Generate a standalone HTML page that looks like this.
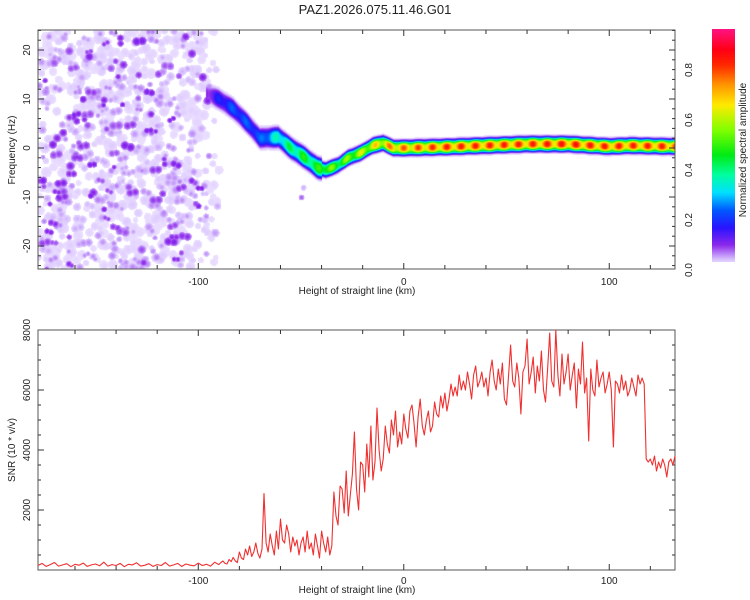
<!DOCTYPE html>
<html><head><meta charset="utf-8"><style>
body{margin:0;background:#fff;width:750px;height:600px;overflow:hidden;font-family:"Liberation Sans",sans-serif}
canvas{position:absolute}
svg{position:absolute;left:0;top:0}
</style></head><body>
<canvas id="spec" width="637" height="239" style="left:38px;top:30px"></canvas>
<canvas id="cbar" width="23" height="233" style="left:712px;top:29px"></canvas>
<svg id="svg" width="750" height="600"></svg>
<script>
// ---- data ----
const ridgeKm=[-95,-90,-83,-76,-70,-61,-55,-48,-42,-38,-32,-27,-21,-15,-10,-5,0,20,40,60,80,100,110,132];
const ridgeFreq=[11,10,8,5,2,2.2,0,-2,-4,-4.5,-3.5,-2,-1,0.5,1,0,0,0.2,0.5,0.8,0.8,0.3,0.5,0.3];
const ridgeAmp=[0.12,0.2,0.25,0.25,0.25,0.4,0.45,0.5,0.5,0.6,0.55,0.6,0.65,0.7,0.75,0.8,0.8,0.85,0.85,0.85,0.87,0.85,0.85,0.85];
const snrLeftStartKm=-178, snrLeftStepKm=2;
const snrLeftValues=[150,220,120,180,250,130,170,210,110,190,160,230,120,170,200,140,260,130,180,150,220,110,190,170,240,130,160,210,120,180,150,250,130,170,220,120,200,160,140,230,150,190,130,260];
const snrRightStartKm=-90, snrRightStepKm=1;
const snrRightValues=[180,250,300,220,200,350,280,420,300,250,
600,400,350,700,500,800,450,600,900,550,
400,700,2550,900,600,1200,800,500,1300,700,
1700,1000,900,1500,1200,600,1100,800,1000,500,
900,1100,600,1300,700,900,500,1200,800,400,
1300,900,600,1100,500,800,2600,1800,1500,2800,
2700,1900,3300,1800,2500,3200,4600,2700,2000,3600,
3500,2600,4200,3100,4800,3000,3600,5400,4000,3300,
3700,4800,4200,3900,5000,4500,5300,4100,4600,4200,
5200,4700,4400,5300,5500,4900,4100,5100,5700,4800,
4500,5000,5300,4600,4800,5600,5200,5100,5800,5400,
5900,5300,5700,6200,5800,6100,5800,6500,6000,6300,
6000,6600,6200,5700,6500,6800,6100,6300,6600,6100,
6400,5800,6600,7000,6300,6000,6700,6200,6900,5700,
5500,6500,7500,6300,6100,6900,6400,5200,6600,6800,
7700,6200,6600,7100,5900,6800,6300,7300,6000,5600,
6700,7900,6300,6100,8000,6500,5800,7200,6200,6600,
7200,6000,6500,6900,5400,6700,6200,7600,5900,6400,
4300,6700,6000,5800,7000,6100,6400,6600,5900,6200,
6600,6000,4100,6300,6200,5900,6500,6000,6300,5800,
6000,6400,6100,5800,6500,6200,6400,6200,3700,3600,
3700,3500,3800,3300,3600,3400,3700,3500,3100,3600,
3700,3500,3800];
const xTicks=[-100,0,100], topYTicks=[-20,-10,0,10,20], botYTicks=[2000,4000,6000,8000], cbTicks=[0.0,0.2,0.4,0.6,0.8];

// ---- scales ----
const X0=38,X1=675,KM0=-178,KM1=132;
const xs=k=>X0+(k-KM0)*(X1-X0)/(KM1-KM0);
const yF=f=>148-f*4.9;
const yS=v=>570-v*0.03;
const cbY=v=>270-v*250;

const stops=[[0,[245,238,255]],[0.04,[220,200,255]],[0.1,[140,40,235]],[0.17,[40,20,255]],[0.24,[0,90,255]],[0.31,[0,225,255]],[0.38,[0,255,160]],[0.46,[0,235,20]],[0.56,[130,255,0]],[0.66,[255,235,0]],[0.74,[255,150,0]],[0.82,[255,40,0]],[0.88,[255,0,20]],[0.97,[255,20,140]]];
function cmap(v){if(v<=stops[0][0])return stops[0][1];for(let i=1;i<stops.length;i++){if(v<=stops[i][0]){const a=stops[i-1],b=stops[i],t=(v-a[0])/(b[0]-a[0]);return a[1].map((c,j)=>c+(b[1][j]-c)*t);}}return stops[stops.length-1][1];}
function interp(xa,ya,x){if(x<=xa[0])return ya[0];for(let i=1;i<xa.length;i++)if(x<=xa[i]){const t=(x-xa[i-1])/(xa[i]-xa[i-1]);return ya[i-1]+(ya[i]-ya[i-1])*t;}return ya[ya.length-1];}

// spectrogram
const W=637,H=239,field=new Float32Array(W*H);
for(let c=0;c<W;c++){const km=KM0+(c+0.5)*(KM1-KM0)/W;if(km<-96)continue;
 const f0=interp(ridgeKm,ridgeFreq,km);const A=interp(ridgeKm,ridgeAmp,km)*(0.88+0.12*Math.cos(km*0.9));
 const sg=km<-40?1.8:1.3;
 for(let r=0;r<H;r++){const f=(148-(30+r+0.5))/4.9;const d=Math.abs(f-f0)/sg;const v=A*Math.exp(-d*d*d);field[r*W+c]=Math.max(field[r*W+c],v);}}
// background noise texture (seeded, decorative)
let seed=12345;const rnd=()=>{seed=(seed*1103515245+12345)%2147483648;return seed/2147483648;};
function blob(cx,cy,rad,val){for(let y=Math.max(0,Math.floor(cy-rad));y<Math.min(H,cy+rad);y++)for(let x=Math.max(0,Math.floor(cx-rad));x<Math.min(W,cx+rad);x++){const d=Math.hypot(x-cx,y-cy)/rad;if(d<1){const v=val*(1-d*d*0.5);if(v>field[y*W+x])field[y*W+x]=v;}}}
for(let i=0;i<1100;i++){const cx=rnd()*(xs(-88)-X0);const cy=rnd()*H;const km=KM0+cx/2.055;if(km>-102&&rnd()<(km+102)/14)continue;const p=rnd();let rad,v;
 if(p<0.62){rad=3+rnd()*2.5;v=0.018+rnd()*0.02;}else if(p<0.9){rad=2.5+rnd()*2;v=0.045+rnd()*0.025;}else{rad=2.5+rnd()*2;v=0.085+rnd()*0.03;}
 blob(cx,cy,rad,v);if(p>0.8&&rnd()<0.5)blob(cx+rad*1.3,cy+(rnd()-0.5)*4,rad,v);}
blob(xs(-50)-X0,yF(-10)-30,3,0.08);blob(xs(-49)-X0,yF(-8)-30,3,0.05);
const ctx=document.getElementById('spec').getContext('2d');const img=ctx.createImageData(W,H);
for(let i=0;i<W*H;i++){const v=field[i];let c=[255,255,255];if(v>0.012)c=cmap(v);img.data[i*4]=c[0];img.data[i*4+1]=c[1];img.data[i*4+2]=c[2];img.data[i*4+3]=255;}
ctx.putImageData(img,0,0);
const cb=document.getElementById('cbar').getContext('2d');
for(let r=0;r<233;r++){const v=(270-(29+r+0.5))/250;const c=cmap(v);cb.fillStyle=`rgb(${c.map(Math.round).join(',')})`;cb.fillRect(0,r,23,1);}

// ---- svg ----
const svg=document.getElementById('svg'),NS='http://www.w3.org/2000/svg';
function mk(tag,attrs,txt){const e=document.createElementNS(NS,tag);for(const k in attrs)e.setAttribute(k,attrs[k]);if(txt!==undefined)e.textContent=txt;svg.appendChild(e);return e;}
function txt(x,y,s,size,rot,name){const e=mk('text',{x:x,y:y,'font-size':size,'text-anchor':'middle',fill:'#222','font-family':'Liberation Sans, sans-serif',transform:rot?`rotate(-90 ${x} ${y})`:''},s);
 
 return e;}
function frame(top,bot,name){const r=mk('rect',{x:X0,y:top,width:X1-X0,height:bot-top,fill:'none',stroke:'#555','stroke-width':1});
 
 
 for(let k=-160;k<=120;k+=20){const x=xs(k),L=k%100===0?6:4;mk('line',{x1:x,x2:x,y1:bot,y2:bot-L,stroke:'#333'});mk('line',{x1:x,x2:x,y1:top,y2:top+L,stroke:'#333'});}}
frame(30,269,'spectrogram-frame');frame(330,570,'snr-frame');
for(let f=-24;f<=24;f+=2){const y=yF(f),L=f%10===0?6:3;mk('line',{x1:X0,x2:X0+L,y1:y,y2:y,stroke:'#333'});mk('line',{x1:X1,x2:X1-L,y1:y,y2:y,stroke:'#333'});}
for(let v=500;v<8000;v+=500){const y=yS(v),L=v%2000===0?6:3;mk('line',{x1:X0,x2:X0+L,y1:y,y2:y,stroke:'#333'});mk('line',{x1:X1,x2:X1-L,y1:y,y2:y,stroke:'#333'});}
xTicks.forEach(k=>{txt(xs(k),285,String(k),10,false,'x-tick-label-top');txt(xs(k),584,String(k),10,false,'x-tick-label-bottom');});
topYTicks.forEach(f=>txt(30,yF(f),String(f),10,true,'freq-tick-label'));
botYTicks.forEach(v=>txt(30,yS(v),String(v),10,true,'snr-tick-label'));
cbTicks.forEach(v=>txt(692,cbY(v),v.toFixed(1),10,true,'colorbar-tick-label'));
txt(375,14,'PAZ1.2026.075.11.46.G01',13,false,'chart-title');
txt(357,294,'Height of straight line (km)',10,false,'x-axis-title-top');
txt(357,593,'Height of straight line (km)',10,false,'x-axis-title-bottom');
txt(15,150,'Frequency (Hz)',10,true,'y-axis-title-frequency');
txt(15,450,'SNR (10 * v/v)',10,true,'y-axis-title-snr');
txt(746,150,'Normalized spectral amplitude',10,true,'colorbar-title');
// SNR line
const ptsArr=[];
snrLeftValues.forEach((v,i)=>ptsArr.push(xs(snrLeftStartKm+i*snrLeftStepKm).toFixed(1)+','+yS(v).toFixed(1)));
snrRightValues.forEach((v,i)=>ptsArr.push(xs(snrRightStartKm+i*snrRightStepKm).toFixed(1)+','+yS(v).toFixed(1)));
const pl=mk('polyline',{points:ptsArr.join(' '),fill:'none',stroke:'#f03030','stroke-width':1.1,'stroke-linejoin':'round'});


</script>
</body></html>
